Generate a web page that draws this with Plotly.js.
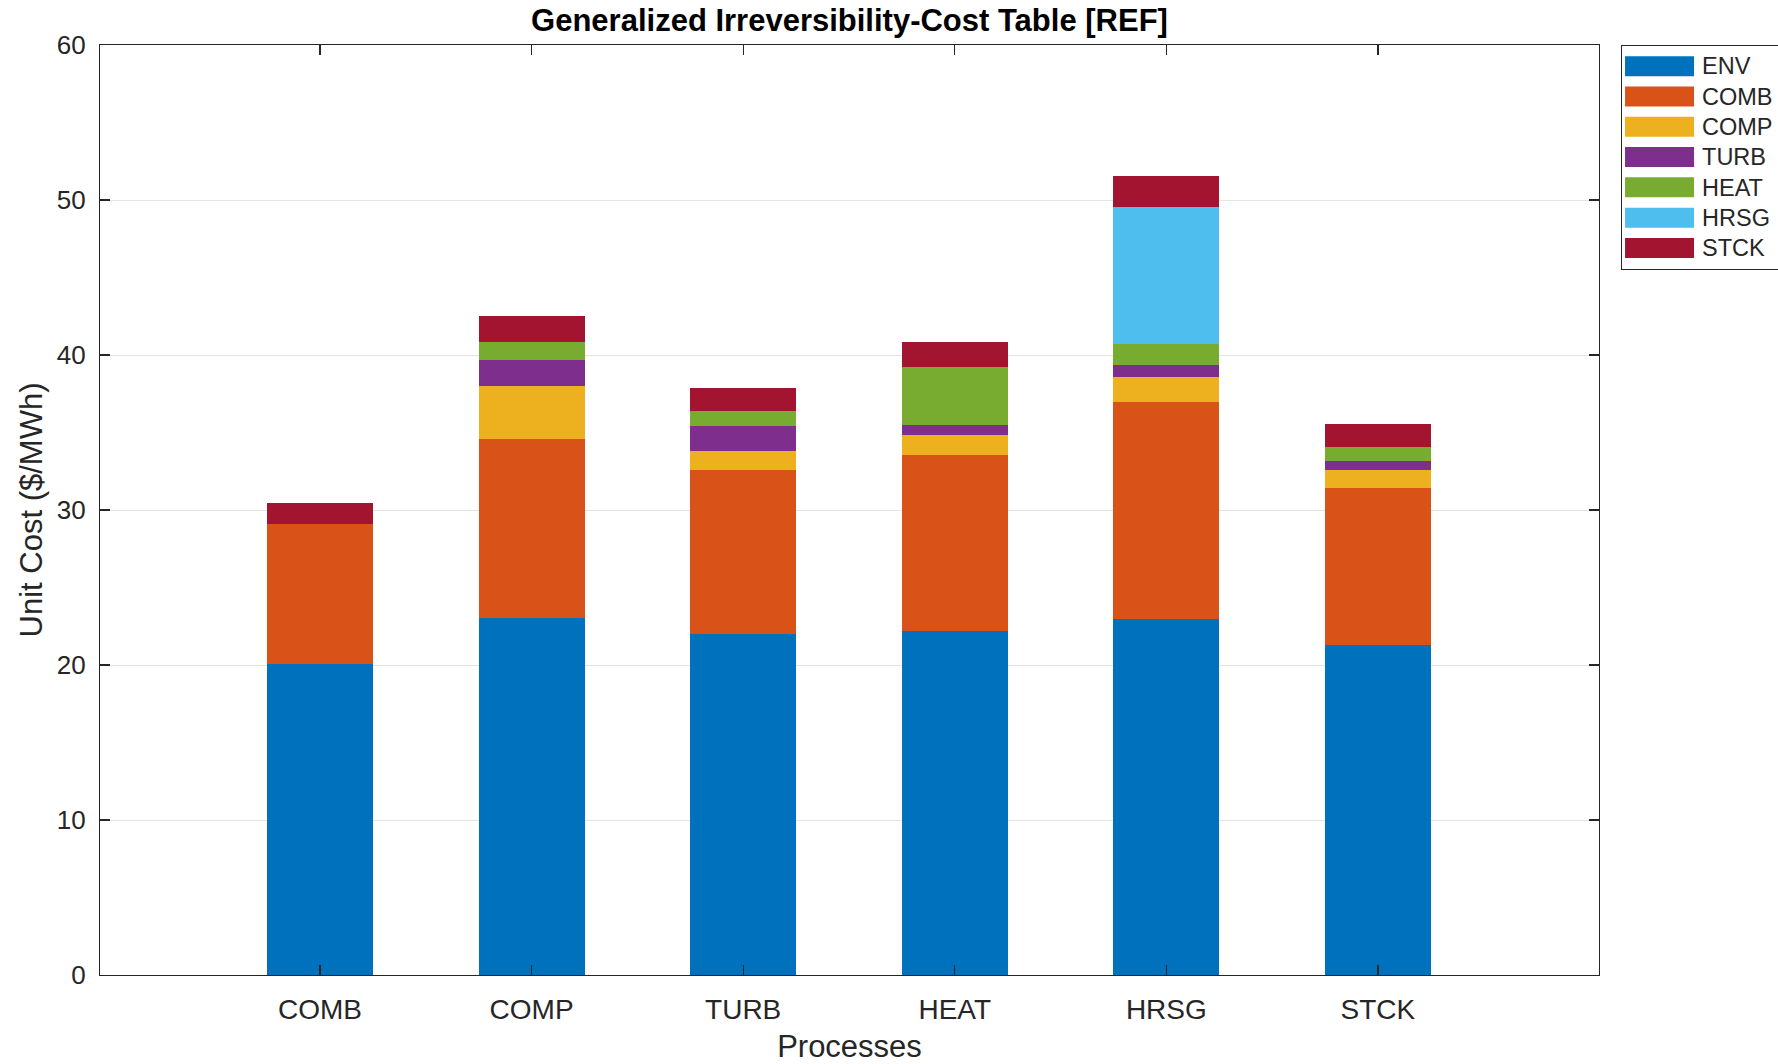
<!DOCTYPE html>
<html>
<head>
<meta charset="utf-8">
<script src="https://cdn.plot.ly/plotly-3.0.1.min.js"></script>
<style>html,body{margin:0;padding:0;background:#fff;}</style>
</head>
<body>
<div id="chart" style="width:1778px;height:1064px;"></div>
<script>
const processes = ['COMB', 'COMP', 'TURB', 'HEAT', 'HRSG', 'STCK'];
const seriesNames = ['ENV', 'COMB', 'COMP', 'TURB', 'HEAT', 'HRSG', 'STCK'];
const ENV  = [20.05, 23.03, 22.00, 22.20, 22.95, 21.31];
const COMB = [9.05, 11.55, 10.56, 11.37, 14.01, 10.09];
const COMP = [0, 3.40, 1.22, 1.29, 1.59, 1.18];
const TURB = [0, 1.72, 1.62, 0.64, 0.82, 0.61];
const HEAT = [0, 1.12, 0.97, 3.70, 1.36, 0.90];
const HRSG = [0, 0, 0, 0, 8.79, 0];
const STCK = [1.35, 1.68, 1.52, 1.66, 2.04, 1.49];
const yTicks = [0, 10, 20, 30, 40, 50, 60];

const values = [ENV, COMB, COMP, TURB, HEAT, HRSG, STCK];
const colors = ['#0072BD', '#D95319', '#EDB120', '#7E2F8E', '#77AC30', '#4DBEEE', '#A2142F'];

const FONT = '"Liberation Sans", Arial, Helvetica, sans-serif';

const traces = seriesNames.map((name, i) => ({
  type: 'bar',
  name: name,
  x: processes,
  y: values[i],
  width: 0.5,
  marker: {color: colors[i], line: {width: 0}},
  hoverinfo: 'name+y'
}));

const layout = {
  width: 1778,
  height: 1064,
  barmode: 'stack',
  paper_bgcolor: '#ffffff',
  plot_bgcolor: '#ffffff',
  margin: {l: 100, r: 179, t: 45, b: 89},
  font: {family: FONT, color: '#262626', size: 26},
  title: {
    text: '<b>Generalized Irreversibility-Cost Table [REF]</b>',
    font: {family: FONT, size: 31, color: '#000000'},
    x: 0.5, xanchor: 'center', xref: 'paper',
    y: 0.981, yanchor: 'middle'
  },
  xaxis: {
    type: 'category',
    range: [-1.04, 6.045],
    ticks: 'inside',
    ticklen: 10,
    tickwidth: 1.2,
    tickcolor: '#262626',
    showline: true,
    linecolor: '#262626',
    linewidth: 1.2,
    mirror: 'ticks',
    showgrid: false,
    zeroline: false,
    tickfont: {family: FONT, size: 28, color: '#262626'},
    ticklabelstandoff: 9,
    title: {text: 'Processes', font: {family: FONT, size: 31, color: '#262626'}, standoff: 12}
  },
  yaxis: {
    range: [0, 60],
    tickvals: yTicks,
    ticktext: yTicks.map(String),
    ticks: 'inside',
    ticklen: 10,
    tickwidth: 1.2,
    tickcolor: '#262626',
    showline: true,
    linecolor: '#262626',
    linewidth: 1.2,
    mirror: 'ticks',
    showgrid: true,
    gridcolor: '#e3e3e3',
    gridwidth: 1,
    zeroline: false,
    tickfont: {family: FONT, size: 26, color: '#262626'},
    ticklabelstandoff: 8,
    title: {text: 'Unit Cost ($/MWh)', font: {family: FONT, size: 31, color: '#262626'}, standoff: 4}
  },
  legend: {
    x: 1.0147, xanchor: 'left', xref: 'paper',
    y: 1.0, yanchor: 'top', yref: 'paper',
    bgcolor: '#ffffff',
    bordercolor: '#262626',
    borderwidth: 1,
    font: {family: FONT, size: 21, color: '#262626'},
    traceorder: 'normal',
    itemwidth: 60,
    tracegroupgap: 0
  },
  showlegend: true
};

Plotly.newPlot('chart', traces, layout, {displayModeBar: false, staticPlot: true}).then(() => {
  // widen legend swatches and space the labels like the reference
  document.querySelectorAll('.legend .traces .legendpoints path').forEach(p => {
    p.setAttribute('d', 'M-32,-10H37V10H-32Z');
  });
  document.querySelectorAll('.legend .traces .legendtext').forEach(t => {
    t.style.fontSize = '23.5px';
    const x = parseFloat(t.getAttribute('x')) || 0;
    t.setAttribute('x', x + 10);
  });
  document.querySelectorAll('.legend .scrollbox, .legend [clip-path]').forEach(el => {
    el.removeAttribute('clip-path');
  });
  const bg = document.querySelector('.legend .bg');
  if (bg) {
    const w = parseFloat(bg.getAttribute('width'));
    bg.setAttribute('width', w + 22);
  }
});
</script>
</body>
</html>
